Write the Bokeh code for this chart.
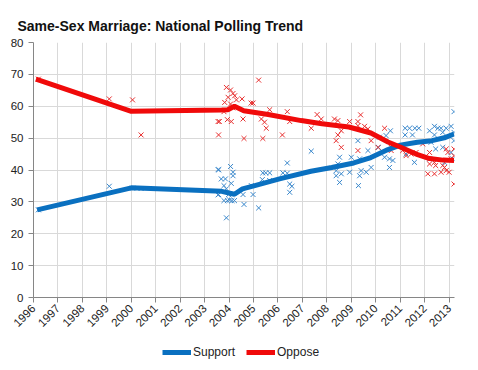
import math
from bokeh.plotting import figure
from bokeh.layouts import column
from bokeh.models import Range1d, FixedTicker, Legend, LegendItem
from bokeh.embed import file_html
from bokeh.resources import INLINE

title_text = "Same-Sex Marriage: National Polling Trend"
year_ticks = list(range(1996, 2014))
year_labels = [str(y) for y in year_ticks]
value_ticks = list(range(0, 81, 10))

support_poll_x = [1996.2, 1999.1, 2000.05, 2000.4, 2003.55, 2003.58, 2003.55, 2003.85,
                  2004.06, 2004.16, 2004.16, 2003.68, 2005.38, 2005.5, 2005.66, 2006.2, 2006.38,
                  2005.36, 2005.66, 2004.09, 2003.79, 2003.89, 2004.91, 2006.48, 2006.57, 2006.48,
                  2003.57, 2003.98, 2004.57, 2004.98, 2003.79, 2003.93, 2004.02, 2004.12, 2004.22,
                  2004.61, 2005.21, 2003.89, 2006.38, 2007.36,
                  2008.38, 2008.59, 2008.38, 2008.52, 2008.52, 2008.45, 2008.93, 2009.0, 2009.34,
                  2009.27, 2009.4, 2009.61, 2009.34, 2009.29, 2009.68, 2009.81, 2010.11, 2010.15,
                  2010.36, 2010.56, 2010.56, 2010.42, 2010.6, 2010.7,
                  2011.2, 2011.38, 2011.6, 2011.76, 2011.2, 2011.5, 2011.58, 2011.24, 2012.2,
                  2012.4, 2012.54, 2012.67, 2012.88, 2013.08, 2012.4, 2012.74, 2013.2, 2012.26,
                  2012.45, 2012.74, 2013.08, 2012.2, 2013.15, 2012.81, 2013.2, 2013.2]
support_poll_y = [27.5, 34.9, 34.3, 34.2, 40.1, 40.1, 32.2, 37.2,
                  41.1, 39.3, 38.2, 37.2, 39.1, 39.1, 39.1, 39.1, 39.0,
                  37.0, 36.7, 35.8, 35.1, 34.1, 35.1, 35.6, 34.9, 33.0,
                  32.3, 32.3, 32.3, 32.3, 30.4, 30.4, 30.6, 30.4, 30.4,
                  29.2, 28.1, 25.0, 42.2, 45.9,
                  39.8, 38.8, 38.2, 44.0, 36.1, 41.9, 39.3, 44.0, 43.5,
                  49.2, 39.8, 39.3, 38.2, 35.1, 46.1, 40.8, 47.1, 50.3,
                  44.0, 43.5, 40.8, 50.8, 52.3, 43.0,
                  53.1, 53.1, 53.1, 53.1, 51.0, 51.0, 42.4, 45.0, 52.3,
                  53.7, 53.1, 53.1, 53.1, 53.7, 51.0, 51.8, 51.8, 48.7,
                  46.6, 47.1, 45.5, 43.5, 43.5, 42.4, 58.3, 49.2]

oppose_poll_x = [1996.2, 1999.1, 2000.05, 2000.4, 2003.55, 2003.6, 2003.57, 2005.21,
                 2003.89, 2004.06, 2004.16, 2003.96, 2004.23, 2003.82, 2004.3, 2004.53, 2004.06,
                 2004.9, 2004.98, 2003.79, 2005.66, 2006.38, 2003.93, 2004.09, 2004.57, 2005.32,
                 2005.45, 2006.48, 2005.52, 2007.6, 2007.77, 2007.36, 2004.61, 2005.38, 2006.18,
                 2004.15,
                 2008.31, 2008.45, 2008.93, 2009.27, 2009.38, 2009.27, 2009.54, 2009.68, 2008.59,
                 2008.45, 2008.38, 2008.59, 2010.36, 2009.81, 2009.27, 2010.63, 2010.63, 2010.09,
                 2011.1, 2011.24, 2011.45, 2011.65, 2011.92, 2012.2, 2012.88, 2012.95, 2013.2,
                 2013.2, 2013.08, 2012.2, 2012.4, 2012.45, 2012.13, 2012.4, 2012.67, 2012.88,
                 2013.0, 2012.74, 2012.81, 2013.2]
oppose_poll_y = [68.5, 62.3, 62.0, 51.0, 55.2, 55.2, 51.0, 68.2,
                 65.9, 65.1, 64.0, 62.8, 63.3, 61.2, 62.0, 62.3, 60.7,
                 61.0, 61.0, 58.3, 58.9, 58.3, 55.8, 55.2, 56.0, 56.0,
                 55.0, 55.2, 53.1, 57.4, 56.0, 53.1, 49.9, 49.9, 51.0,
                 59.5,
                 56.0, 55.5, 55.2, 55.2, 57.3, 53.9, 53.7, 52.9, 52.3,
                 51.0, 49.2, 47.1, 53.1, 49.2, 46.1, 47.1, 46.1, 47.1,
                 46.1, 44.5, 45.0, 45.5, 48.2, 45.5, 46.6, 45.5, 46.6,
                 44.5, 43.5, 41.9, 42.4, 41.4, 38.8, 38.8, 39.3, 39.8,
                 39.3, 41.4, 40.8, 35.6]

support_trend_x = [1996.15, 2000.0, 2003.7, 2004.22, 2004.55, 2005.05, 2006.1, 2007.35,
                   2008.2, 2009.1, 2009.8, 2010.5, 2011.0, 2011.7, 2012.3, 2012.8, 2013.2]
support_trend_y = [27.5, 34.4, 33.3, 32.4, 34.1, 35.1, 37.3, 39.6,
                   40.8, 42.2, 43.9, 46.4, 47.8, 48.7, 49.2, 50.1, 51.3]

oppose_trend_x = [1996.1, 2000.0, 2003.7, 2003.95, 2004.22, 2004.6, 2005.6, 2006.95,
                  2007.8, 2008.9, 2009.8, 2010.5, 2011.0, 2011.65, 2012.2, 2012.75, 2013.2]
oppose_trend_y = [68.5, 58.4, 58.8, 58.9, 60.0, 58.6, 57.4, 55.5,
                  54.5, 53.5, 51.6, 48.8, 47.2, 45.0, 43.6, 43.1, 43.0]

series_names = ["Support", "Oppose"]

BLUE = "#0A70C0"
RED = "#F00A0A"
BLUE_PT = "#3A88CC"
RED_PT = "#E83030"
FONT = "Liberation Sans"

p = figure(width=470, height=337,
           x_range=Range1d(1996, 2013.22), y_range=Range1d(0, 80),
           output_backend="svg", toolbar_location=None,
           min_border_left=33, min_border_right=16,
           min_border_top=42, min_border_bottom=40)

p.title.text = title_text
p.title.text_font = FONT
p.title.text_font_style = "bold"
p.title.text_font_size = "14px"
p.title.text_color = "#111111"
p.title.text_line_height = 0.5
p.title.offset = -16
p.title.standoff = 18

p.outline_line_color = None
p.background_fill_color = "white"
p.border_fill_color = "white"

p.xaxis.ticker = FixedTicker(ticks=year_ticks)
p.xaxis.major_label_overrides = {t: l for t, l in zip(year_ticks, year_labels)}
p.xaxis.major_label_orientation = math.pi / 4
p.yaxis.ticker = FixedTicker(ticks=value_ticks)

for ax in (p.xaxis, p.yaxis):
    ax.axis_line_color = "#868686"
    ax.major_tick_line_color = "#868686"
    ax.minor_tick_line_color = None
    ax.major_tick_in = 0
    ax.major_tick_out = 5
    ax.major_label_text_font = FONT
    ax.major_label_text_font_size = "11.5px"
    ax.major_label_text_color = "#222222"
p.yaxis.major_label_standoff = 5
p.xaxis.major_label_standoff = 4

p.xgrid.grid_line_color = "#D9D9D9"
p.ygrid.grid_line_color = "#D9D9D9"

p.scatter(support_poll_x, support_poll_y, marker="x", size=7,
          line_color=BLUE_PT, line_width=1)
p.scatter(oppose_poll_x, oppose_poll_y, marker="x", size=7,
          line_color=RED_PT, line_width=1)

p.line(support_trend_x, support_trend_y, line_color=BLUE, line_width=5)
p.line(oppose_trend_x, oppose_trend_y, line_color=RED, line_width=5)

# legend strip below the chart: same trend series, drawn out of its view
lg = figure(width=470, height=25, x_range=Range1d(1996, 2013.22), y_range=Range1d(100, 101),
            output_backend="svg", toolbar_location=None,
            x_axis_location=None, y_axis_location=None, min_border=0)
lg.grid.visible = False
lg.outline_line_color = None
k_sup = lg.line(support_trend_x, support_trend_y, line_color=BLUE, line_width=5)
k_opp = lg.line(oppose_trend_x, oppose_trend_y, line_color=RED, line_width=5)
legend = Legend(items=[LegendItem(label=series_names[0], renderers=[k_sup]),
                       LegendItem(label=series_names[1], renderers=[k_opp])],
                orientation="horizontal", location=(129, 3),
                glyph_width=29, glyph_height=14, label_height=14,
                label_standoff=2, spacing=11,
                padding=0, margin=0, border_line_color=None,
                background_fill_alpha=0,
                label_text_font=FONT, label_text_font_size="12px",
                label_text_color="#222222")
lg.add_layout(legend, "center")

open("out.html", "w").write(file_html(column(p, lg, spacing=0), INLINE))
